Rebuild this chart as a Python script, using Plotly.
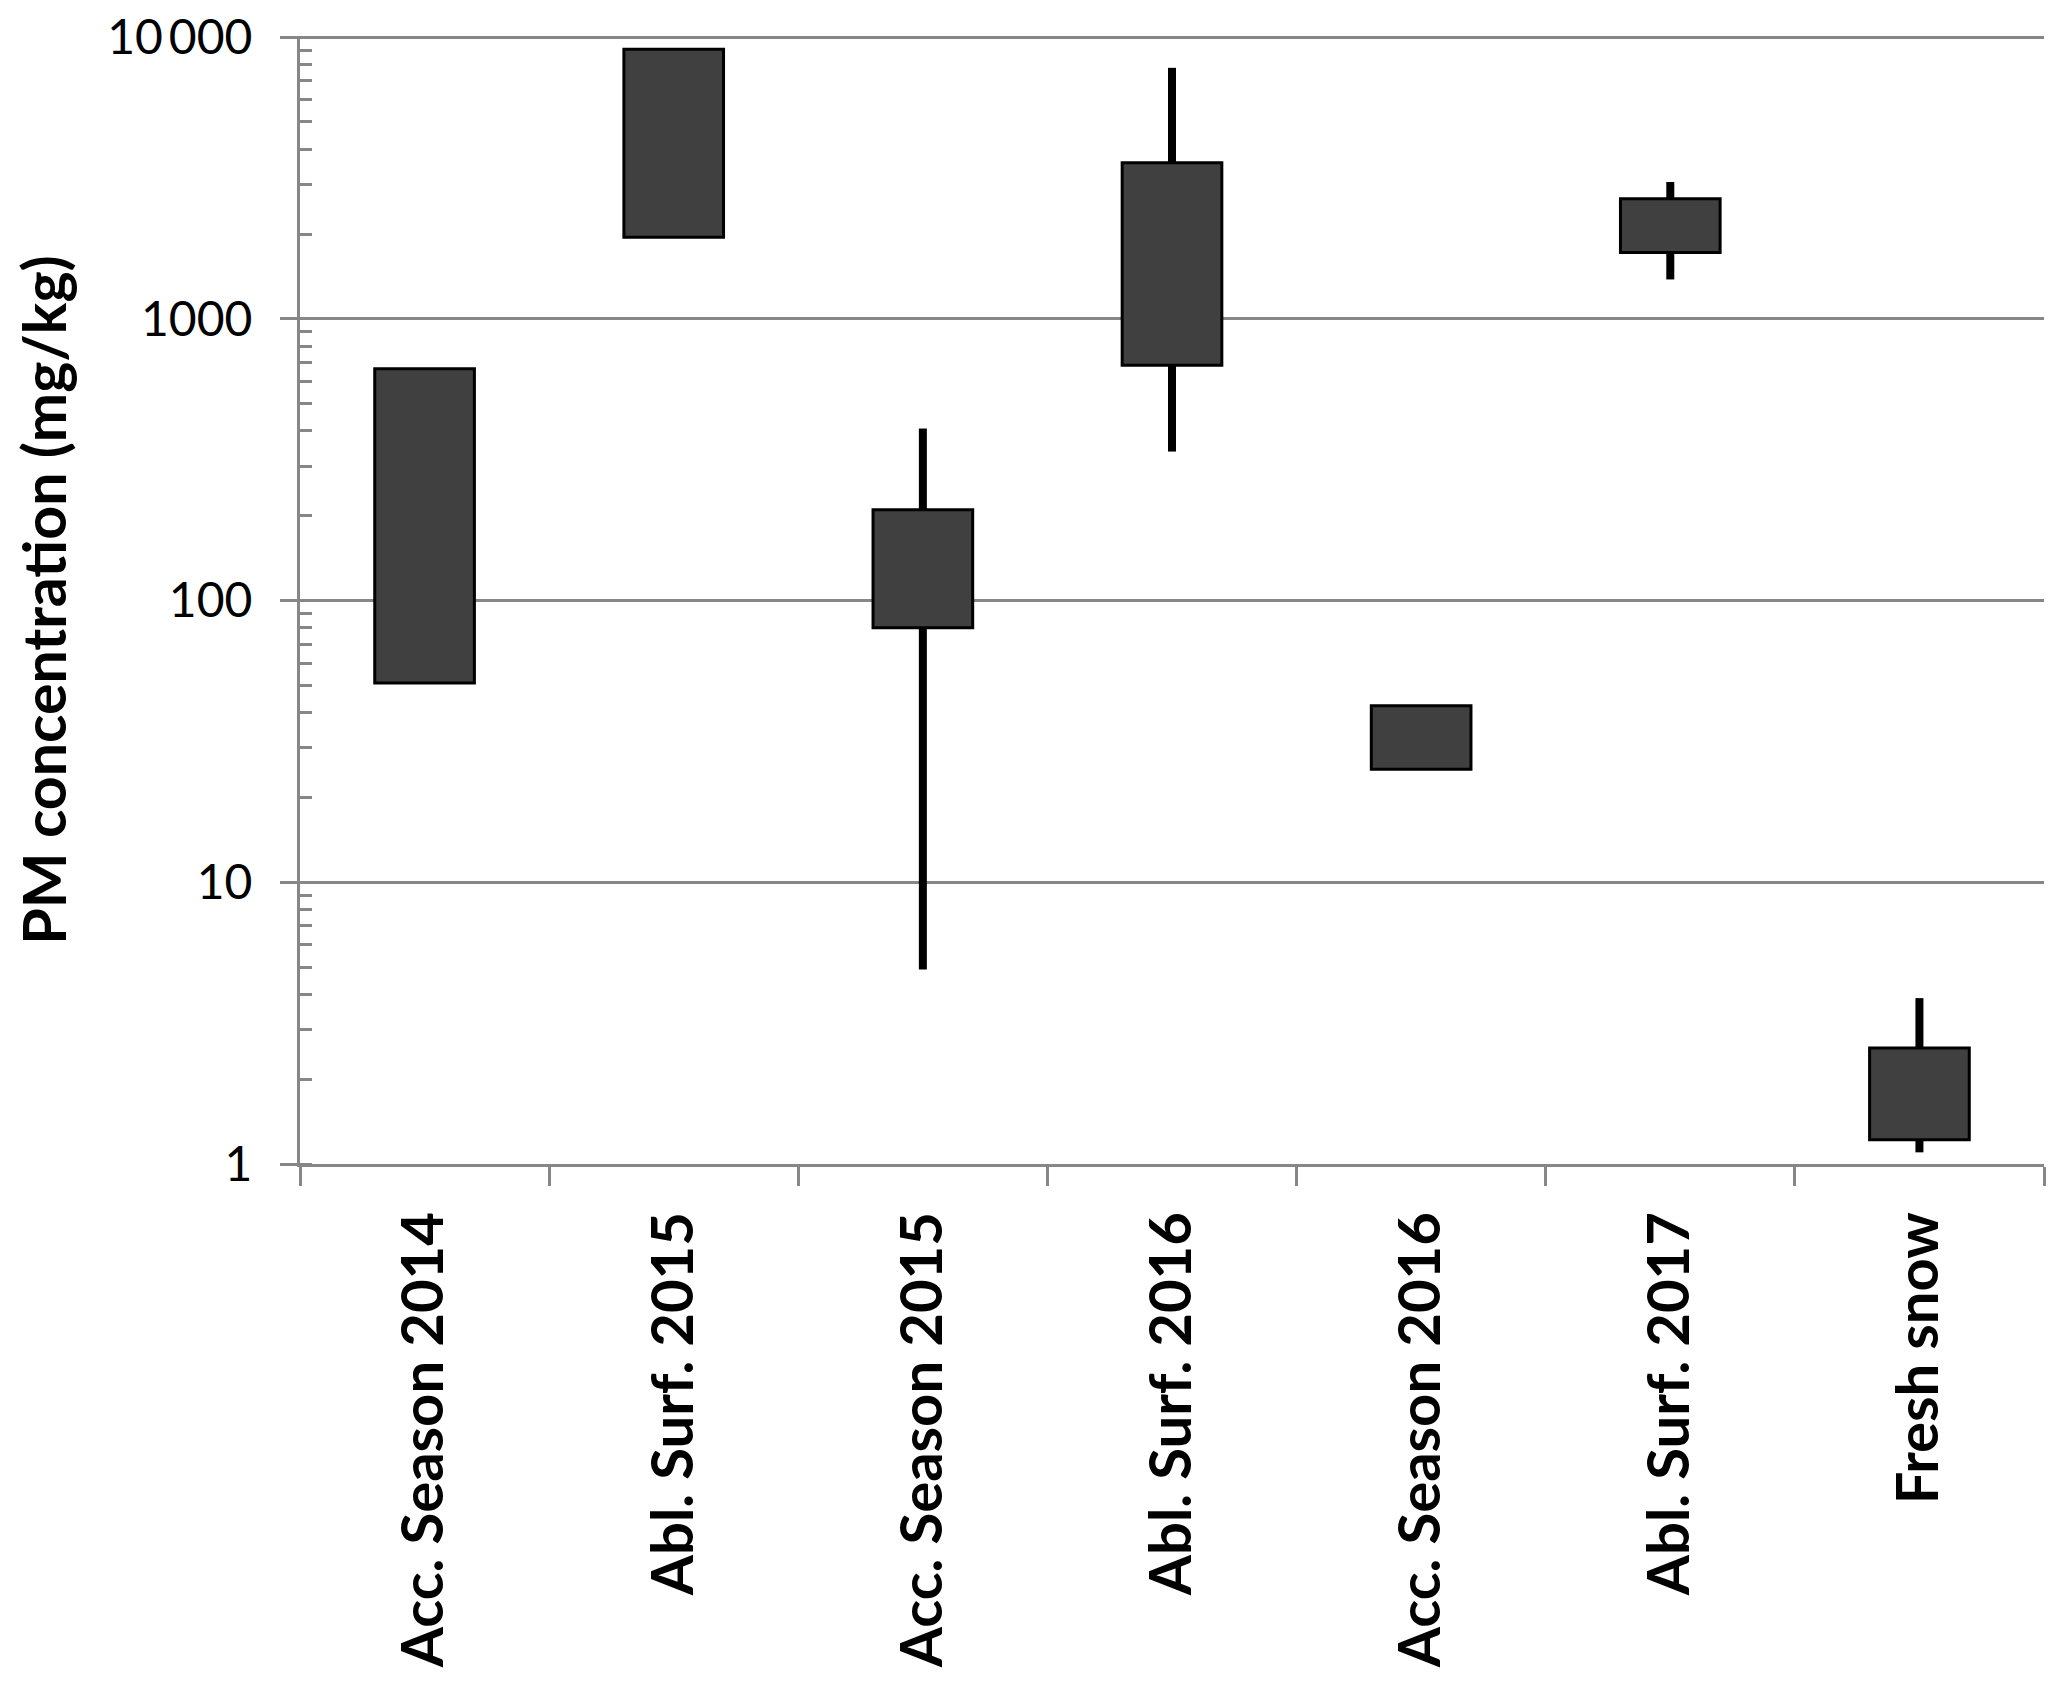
import plotly.graph_objects as go

categories = ["Acc. Season 2014", "Abl. Surf. 2015", "Acc. Season 2015", "Abl. Surf. 2016",
              "Acc. Season 2016", "Abl. Surf. 2017", "Fresh snow"]
box_low = [51, 1950, 80, 685, 25.2, 1720, 1.22]
box_high = [665, 9050, 210, 3580, 42.3, 2670, 2.58]
whisker_low = [None, None, 4.9, 338, None, 1380, 1.10]
whisker_high = [None, None, 408, 7780, None, 3060, 3.88]

y_tickvals = [1, 10, 100, 1000, 10000]
y_ticktext = ["1", "10", "100", "1000", "10\u2009000"]

GRAY = "#878787"

fig = go.Figure()

fig.add_trace(go.Bar(
    x=categories,
    y=[h - l for l, h in zip(box_low, box_high)],
    base=box_low,
    width=0.40,
    marker=dict(color="#404040", line=dict(color="black", width=3)),
    showlegend=False,
))

wx, wy = [], []
for c, lo, q1, q3, hi in zip(categories, whisker_low, box_low, box_high, whisker_high):
    if lo is not None:
        wx += [c, c, None]
        wy += [lo, q1, None]
    if hi is not None:
        wx += [c, c, None]
        wy += [q3, hi, None]

fig.add_trace(go.Scatter(
    x=wx, y=wy, mode="lines",
    line=dict(color="black", width=8),
    connectgaps=False,
    showlegend=False,
))

fig.update_layout(
    width=2059, height=1680,
    margin=dict(l=292, r=23, t=28, b=524, autoexpand=False),
    plot_bgcolor="white", paper_bgcolor="white",
    font=dict(family="Lato", color="black"),
)

fig.update_xaxes(
    type="category",
    categoryorder="array", categoryarray=categories,
    range=[-0.5, 6.5],
    automargin=False,
    showline=True, linecolor=GRAY, linewidth=3,
    ticks="outside", ticklen=19, tickwidth=3, tickcolor=GRAY,
    tickson="boundaries",
    tickangle=-90,
    tickfont=dict(family="Lato", size=58, color="black", weight="bold"),
    ticklabelstandoff=22,
    showgrid=False,
)

fig.update_yaxes(
    type="log", range=[0, 4.004],
    automargin=False,
    tickvals=y_tickvals, ticktext=y_ticktext,
    showline=True, linecolor=GRAY, linewidth=3,
    ticks="outside", ticklen=17, tickwidth=3, tickcolor=GRAY,
    showgrid=True, gridcolor=GRAY, gridwidth=3,
    zeroline=False,
    tickfont=dict(family="Lato", size=48, color="black"),
    ticklabelstandoff=18,
    ticklabeloverflow="allow",
    minor=dict(ticks="inside", ticklen=12, tickwidth=3, tickcolor=GRAY,
               dtick="D1", showgrid=False),
    title=dict(text="PM concentration (mg/kg)",
               font=dict(family="Lato", size=59, color="black", weight="bold"),
               standoff=28),
)

fig.write_html("out.html")
